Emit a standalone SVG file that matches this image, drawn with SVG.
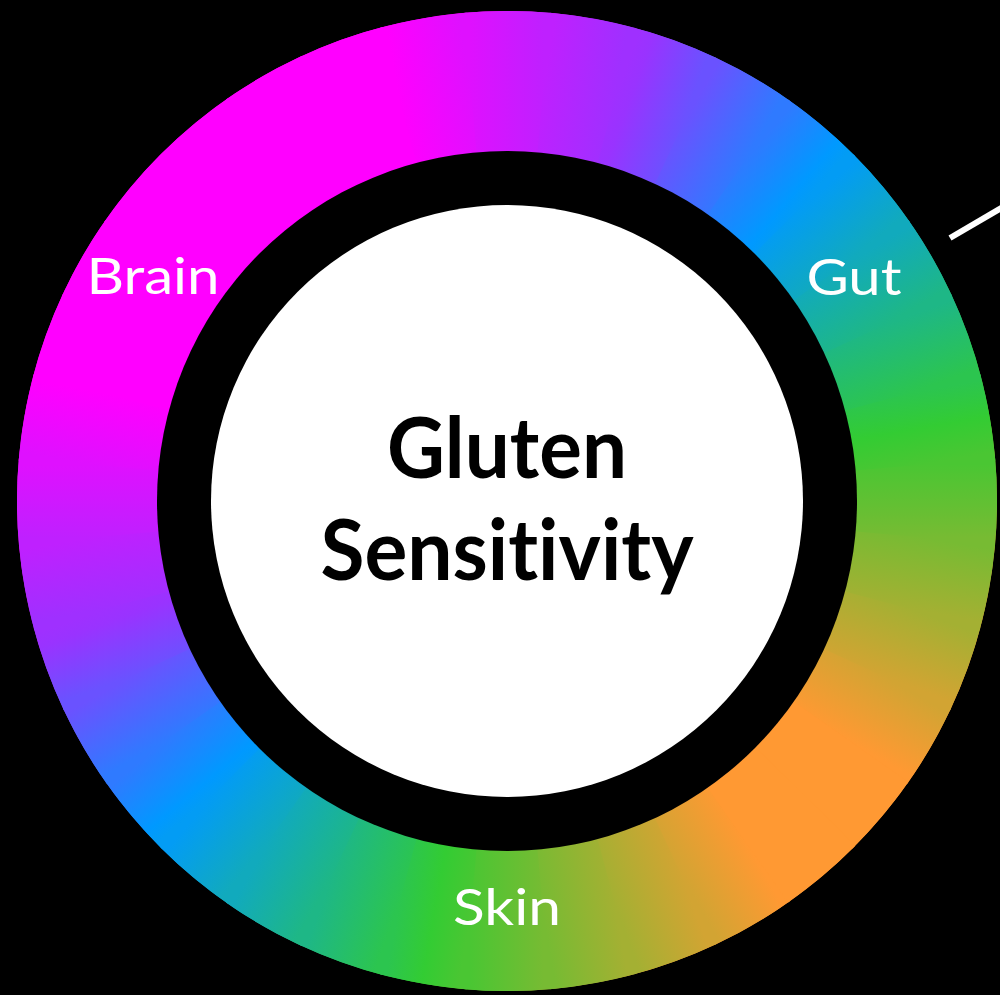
<svg xmlns="http://www.w3.org/2000/svg" xmlns:xlink="http://www.w3.org/1999/xlink" width="1000" height="995" viewBox="0 0 1000 995">
<defs>
<linearGradient id="ringGrad" gradientUnits="userSpaceOnUse" x1="145" y1="171" x2="871" y2="829">
<stop offset="0" stop-color="#FF00FF"/>
<stop offset="0.15" stop-color="#FF00FF"/>
<stop offset="0.48" stop-color="#0099FF"/>
<stop offset="0.75" stop-color="#33CC33"/>
<stop offset="0.95" stop-color="#FF9933"/>
<stop offset="1" stop-color="#FF9933"/>
</linearGradient>
<linearGradient id="gb" gradientUnits="userSpaceOnUse" x1="420" y1="0" x2="413.62" y2="72.93"/>
<linearGradient id="g3" xlink:href="#gb"><stop offset="0" stop-color="rgb(255,0,255)"/><stop offset="1" stop-color="rgb(223,16,255)"/></linearGradient>
<linearGradient id="g4" xlink:href="#gb"><stop offset="0" stop-color="rgb(223,16,255)"/><stop offset="1" stop-color="rgb(191,32,255)"/></linearGradient>
<linearGradient id="g5" xlink:href="#gb"><stop offset="0" stop-color="rgb(191,32,255)"/><stop offset="1" stop-color="rgb(159,48,255)"/></linearGradient>
<linearGradient id="g6" xlink:href="#gb"><stop offset="0" stop-color="rgb(159,48,255)"/><stop offset="0.2" stop-color="rgb(153,51,255)"/><stop offset="1" stop-color="rgb(106,82,255)"/></linearGradient>
<linearGradient id="g7" xlink:href="#gb"><stop offset="0" stop-color="rgb(106,82,255)"/><stop offset="1" stop-color="rgb(47,122,255)"/></linearGradient>
<linearGradient id="g8" xlink:href="#gb"><stop offset="0" stop-color="rgb(47,122,255)"/><stop offset="0.8" stop-color="#0099FF"/><stop offset="1" stop-color="rgb(3,156,244)"/></linearGradient>
<linearGradient id="g9" xlink:href="#gb"><stop offset="0" stop-color="rgb(3,156,244)"/><stop offset="1" stop-color="rgb(17,170,189)"/></linearGradient>
<linearGradient id="g10" xlink:href="#gb"><stop offset="0" stop-color="rgb(17,170,189)"/><stop offset="1" stop-color="rgb(30,183,134)"/></linearGradient>
<linearGradient id="g11" xlink:href="#gb"><stop offset="0" stop-color="rgb(30,183,134)"/><stop offset="1" stop-color="rgb(44,197,79)"/></linearGradient>
<linearGradient id="g12" xlink:href="#gb"><stop offset="0" stop-color="rgb(44,197,79)"/><stop offset="0.5" stop-color="#33CC33"/><stop offset="1" stop-color="rgb(74,198,51)"/></linearGradient>
<linearGradient id="g13" xlink:href="#gb"><stop offset="0" stop-color="rgb(74,198,51)"/><stop offset="1" stop-color="rgb(119,187,51)"/></linearGradient>
<linearGradient id="g14" xlink:href="#gb"><stop offset="0" stop-color="rgb(119,187,51)"/><stop offset="1" stop-color="rgb(164,176,51)"/></linearGradient>
<linearGradient id="g15" xlink:href="#gb"><stop offset="0" stop-color="rgb(164,176,51)"/><stop offset="1" stop-color="rgb(210,164,51)"/></linearGradient>
<linearGradient id="g16" xlink:href="#gb"><stop offset="0" stop-color="rgb(210,164,51)"/><stop offset="1" stop-color="rgb(255,153,51)"/></linearGradient>
<path id="w" d="M0,0 L490,0 A490,490 0 0 1 482.1,87.6 Z"/>
<style>
.lbl{font-family:Lato,"Open Sans","Liberation Sans",sans-serif;fill:#FFFFFF;font-size:50px;text-anchor:middle}
.title{font-family:Lato,"Open Sans","Liberation Sans",sans-serif;fill:#000000;font-size:84px;font-weight:bold;text-anchor:middle;font-variant-ligatures:none;font-feature-settings:"liga" 0}
.conn{stroke:#FFFFFF;stroke-width:6;fill:none}
</style>
</defs>
<rect x="0" y="0" width="1000" height="995" fill="#000000"/>
<g id="connectors">
<line class="conn" x1="950" y1="238" x2="1003" y2="207"/>
</g>
<g id="ring">
<circle cx="507" cy="501" r="490" fill="url(#ringGrad)"/>
<g transform="translate(507,501) rotate(-135)">
<g id="half">
<use xlink:href="#w" fill="#FF00FF"/>
<use xlink:href="#w" transform="rotate(10)" fill="#FF00FF"/>
<use xlink:href="#w" transform="rotate(20)" fill="#FF00FF"/>
<use xlink:href="#w" transform="rotate(30)" fill="url(#g3)"/>
<use xlink:href="#w" transform="rotate(40)" fill="url(#g4)"/>
<use xlink:href="#w" transform="rotate(50)" fill="url(#g5)"/>
<use xlink:href="#w" transform="rotate(60)" fill="url(#g6)"/>
<use xlink:href="#w" transform="rotate(70)" fill="url(#g7)"/>
<use xlink:href="#w" transform="rotate(80)" fill="url(#g8)"/>
<use xlink:href="#w" transform="rotate(90)" fill="url(#g9)"/>
<use xlink:href="#w" transform="rotate(100)" fill="url(#g10)"/>
<use xlink:href="#w" transform="rotate(110)" fill="url(#g11)"/>
<use xlink:href="#w" transform="rotate(120)" fill="url(#g12)"/>
<use xlink:href="#w" transform="rotate(130)" fill="url(#g13)"/>
<use xlink:href="#w" transform="rotate(140)" fill="url(#g14)"/>
<use xlink:href="#w" transform="rotate(150)" fill="url(#g15)"/>
<use xlink:href="#w" transform="rotate(160)" fill="url(#g16)"/>
<use xlink:href="#w" transform="rotate(170)" fill="#FF9933"/>
</g>
<use xlink:href="#half" transform="scale(1,-1)"/>
</g>
<circle cx="507" cy="501" r="350" fill="#000000"/>
</g>
<g id="center">
<circle cx="507" cy="501" r="296" fill="#FFFFFF"/>
<text class="title" x="507" y="478" textLength="240" lengthAdjust="spacingAndGlyphs">Gluten</text>
<text class="title" x="507" y="580" textLength="373" lengthAdjust="spacingAndGlyphs">Sensitivity</text>
</g>
<g id="brain"><text class="lbl" x="153" y="294" textLength="133" lengthAdjust="spacingAndGlyphs">Brain</text></g>
<g id="gut"><text class="lbl" x="854" y="295" textLength="95" lengthAdjust="spacingAndGlyphs">Gut</text></g>
<g id="skin"><text class="lbl" x="507" y="925" textLength="108" lengthAdjust="spacingAndGlyphs">Skin</text></g>
</svg>
